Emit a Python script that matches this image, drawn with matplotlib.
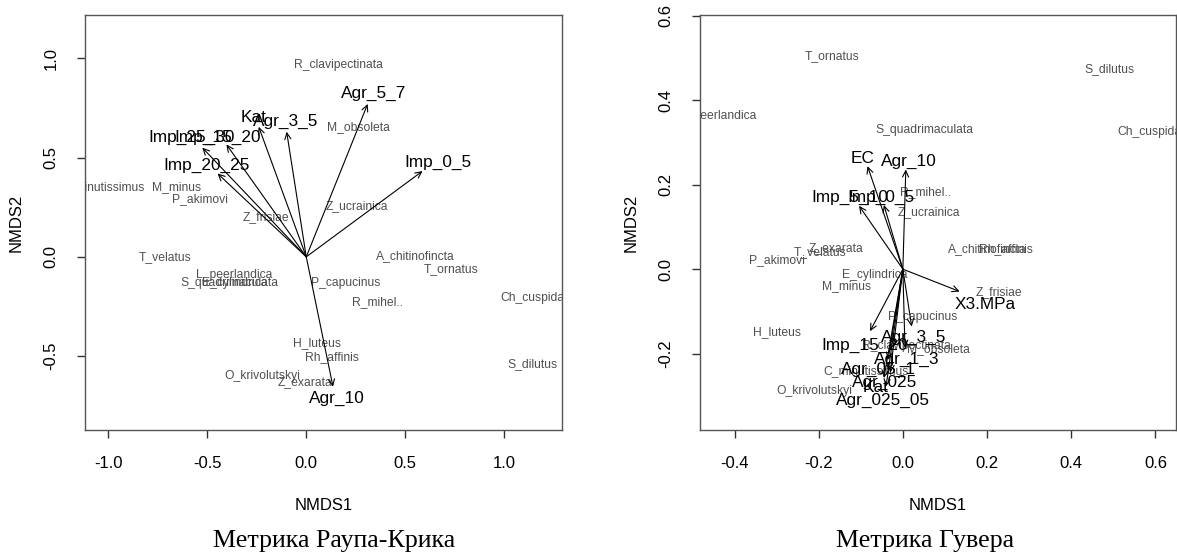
import matplotlib
matplotlib.use("Agg")
import matplotlib.pyplot as plt
from matplotlib.ticker import FixedLocator, FormatStrFormatter

plt.rcParams['font.family'] = ['Liberation Sans', 'DejaVu Sans']
plt.rcParams['axes.unicode_minus'] = False

# NMDS, Raup-Crick metric: species scores
rc_species = ['R_clavipectinata', 'M_obsoleta', 'Z_ucrainica', 'Z_frisiae', 'M_minus',
              'P_akimovi', 'C_minutissimus', 'T_velatus', 'A_chitinofincta', 'T_ornatus',
              'L_peerlandica', 'S_quadrimaculata', 'E_cylindrica', 'P_capucinus', 'R_mihel..',
              'Ch_cuspidata', 'H_luteus', 'Rh_affinis', 'S_dilutus', 'O_krivolutskyi', 'Z_exarata']
rc_sp_x = [0.164, 0.262, 0.258, -0.204, -0.653, -0.536, -1.030, -0.713, 0.553, 0.731,
           -0.365, -0.387, -0.361, 0.199, 0.361, 1.166, 0.052, 0.130, 1.144, -0.222, -0.007]
rc_sp_y = [0.966, 0.655, 0.257, 0.200, 0.350, 0.290, 0.350, 0.000, 0.003, -0.064,
           -0.090, -0.131, -0.131, -0.131, -0.230, -0.206, -0.433, -0.503, -0.542, -0.600, -0.633]

# envfit vectors (arrow ends and label points)
rc_vec = ['Imp_0_5', 'Agr_5_7', 'Agr_3_5', 'Kat', 'Imp_25_30', 'Imp_15_20', 'Imp_20_25', 'Agr_10']
rc_vec_x = [0.587, 0.310, -0.099, -0.240, -0.525, -0.403, -0.448, 0.135]
rc_vec_y = [0.432, 0.770, 0.630, 0.655, 0.550, 0.566, 0.420, -0.654]
rc_lab_x = [0.664, 0.338, -0.106, -0.265, -0.578, -0.446, -0.505, 0.153]
rc_lab_y = [0.476, 0.824, 0.681, 0.703, 0.602, 0.602, 0.462, -0.713]

# NMDS, Huber metric: species scores
hu_species = ['T_ornatus', 'S_dilutus', 'L_peerlandica', 'S_quadrimaculata', 'Ch_cuspidata',
              'R_mihel..', 'Z_ucrainica', 'A_chitinofincta', 'Rh_affinis', 'Z_exarata',
              'T_velatus', 'P_akimovi', 'E_cylindrica', 'M_minus', 'Z_frisiae', 'P_capucinus',
              'H_luteus', 'R_clavipectinata', 'M_obsoleta', 'C_minutissimus', 'O_krivolutskyi']
hu_sp_x = [-0.169, 0.490, -0.438, 0.052, 0.599, 0.053, 0.062, 0.200, 0.244, -0.160,
           -0.196, -0.299, -0.066, -0.134, 0.229, 0.048, -0.298, 0.009, 0.085, -0.087, -0.211]
hu_sp_y = [0.505, 0.475, 0.363, 0.329, 0.324, 0.183, 0.136, 0.047, 0.047, 0.050,
           0.041, 0.021, -0.013, -0.040, -0.054, -0.113, -0.148, -0.183, -0.190, -0.242, -0.288]

hu_vec = ['EC', 'Agr_10', 'Imp_5_10', 'Imp_0_5', 'X3.MPa', 'Imp_15_20', 'Agr_3_5',
          'Agr_1_3', 'Agr_05_1', 'Agr_025', 'Kat', 'Agr_025_05']
hu_vec_x = [-0.084, 0.007, -0.104, -0.045, 0.135, -0.078, 0.021, 0.005, -0.035, -0.030, -0.045, -0.040]
hu_vec_y = [0.244, 0.236, 0.150, 0.152, -0.053, -0.147, -0.136, -0.186, -0.215, -0.245, -0.258, -0.278]
hu_lab_x = [-0.096, 0.015, -0.125, -0.052, 0.196, -0.091, 0.026, 0.010, -0.057, -0.043, -0.064, -0.048]
hu_lab_y = [0.262, 0.254, 0.171, 0.171, -0.083, -0.180, -0.162, -0.214, -0.238, -0.269, -0.281, -0.310]

W, H = 1177, 559
fig = plt.figure(figsize=(W / 100, H / 100), dpi=100)


def ordi_panel(rect, xlim, ylim, xticks, yticks, sp, sx, sy, vec, vx, vy, lx, ly, caption, cap_x):
    ax = fig.add_axes(rect)
    ax.set_xlim(*xlim)
    ax.set_ylim(*ylim)
    for s in ax.spines.values():
        s.set_color('#555555')
        s.set_linewidth(1.0)
    ax.xaxis.set_major_locator(FixedLocator(xticks))
    ax.yaxis.set_major_locator(FixedLocator(yticks))
    ax.xaxis.set_major_formatter(FormatStrFormatter('%.1f'))
    ax.yaxis.set_major_formatter(FormatStrFormatter('%.1f'))
    ax.tick_params(length=6, width=1, color='#333333', labelsize=12, pad=13)
    for lab in ax.get_yticklabels():
        lab.set_rotation(90)
        lab.set_va('center')
    ax.set_xlabel('NMDS1', fontsize=12)
    ax.set_ylabel('NMDS2', fontsize=12)
    ax.xaxis.set_label_coords(0.5, -75 / 415)
    ax.yaxis.set_label_coords(-69 / rect[2] / W, 0.5)
    ax.xaxis.label.set_va('center')
    ax.yaxis.label.set_va('center')

    # species
    for name, x, y in zip(sp, sx, sy):
        ax.text(x, y, name, fontsize=8.7, color='#505050', ha='center', va='center', clip_on=True)
    # fitted vectors
    for name, x, y, tx, ty in zip(vec, vx, vy, lx, ly):
        ax.annotate('', xy=(x, y), xytext=(0, 0),
                    arrowprops=dict(arrowstyle='->,head_length=0.45,head_width=0.22',
                                    lw=0.8, color='black', shrinkA=0, shrinkB=0))
        ax.text(tx, ty, name, fontsize=12.4, color='black', ha='center', va='center', clip_on=True)

    fig.text(cap_x / W, 1 - 541 / H, caption, fontsize=18.7, family='Liberation Serif',
             ha='center', va='center')
    return ax


ordi_panel([85 / W, 129 / H, 477 / W, 415 / H], (-1.117, 1.291), (-0.872, 1.218),
           [-1.0, -0.5, 0.0, 0.5, 1.0], [-0.5, 0.0, 0.5, 1.0],
           rc_species, rc_sp_x, rc_sp_y, rc_vec, rc_vec_x, rc_vec_y, rc_lab_x, rc_lab_y,
           'Метрика Раупа-Крика', 334)

ordi_panel([700 / W, 129 / H, 476 / W, 415 / H], (-0.482, 0.649), (-0.381, 0.602),
           [-0.4, -0.2, 0.0, 0.2, 0.4, 0.6], [-0.2, 0.0, 0.2, 0.4, 0.6],
           hu_species, hu_sp_x, hu_sp_y, hu_vec, hu_vec_x, hu_vec_y, hu_lab_x, hu_lab_y,
           'Метрика Гувера', 925)

fig.savefig('out.png', dpi=100)
